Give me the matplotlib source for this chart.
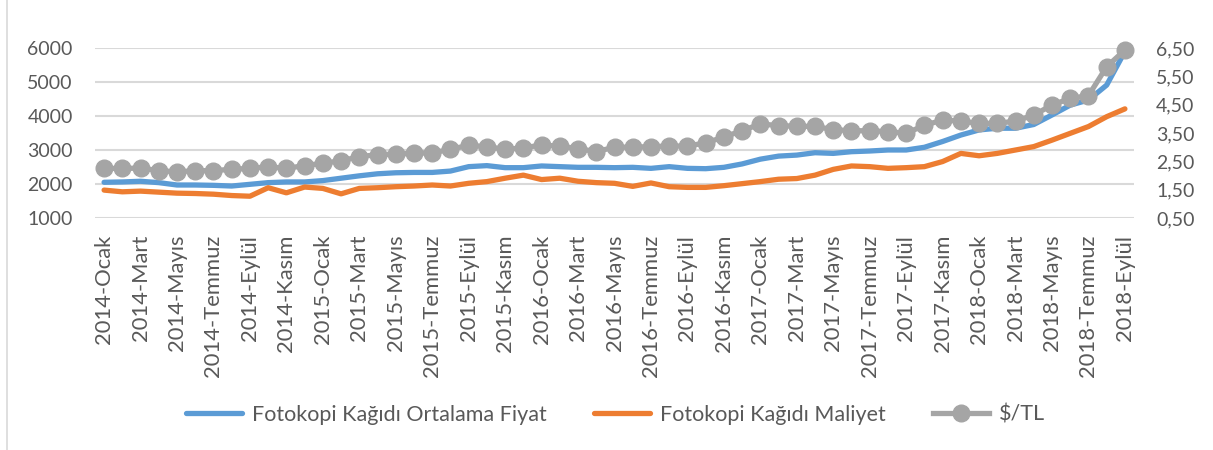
import matplotlib
matplotlib.use('Agg')
import matplotlib.pyplot as plt
import matplotlib.ticker as mticker
from matplotlib.lines import Line2D

plt.rcParams.update({
    'font.family': ['Lato', 'DejaVu Sans'],
    'font.size': 14,
    'text.color': '#595959',
    'xtick.color': '#595959',
    'ytick.color': '#595959',
})

BLUE   = '#5B9BD5'
ORANGE = '#ED7D31'
GRAY   = '#A5A5A5'
GRID   = '#D9D9D9'

# aylar: 2014-Ocak .. 2018-Eylül
years  = [2014, 2015, 2016, 2017, 2018]
months = ['Ocak', 'Şubat', 'Mart', 'Nisan', 'Mayıs', 'Haziran',
          'Temmuz', 'Ağustos', 'Eylül', 'Ekim', 'Kasım', 'Aralık']
labels = [f'{y}-{m}' for y in years for m in months][:57]

ortalama_fiyat = [2050, 2060, 2080, 2040, 1970, 1970, 1960, 1940, 1990, 2040, 2060, 2060,
                  2100, 2170, 2240, 2300, 2330, 2340, 2340, 2380, 2510, 2540, 2480, 2480,
                  2530, 2510, 2490, 2490, 2480, 2490, 2460, 2510, 2460, 2450, 2490, 2590,
                  2730, 2820, 2850, 2920, 2900, 2950, 2970, 3000, 3000, 3080, 3250, 3440,
                  3590, 3640, 3640, 3750, 4030, 4320, 4470, 4910, 5900]
maliyet = [1820, 1770, 1790, 1760, 1730, 1720, 1700, 1660, 1640, 1890, 1740, 1910,
           1870, 1710, 1870, 1890, 1920, 1940, 1970, 1940, 2020, 2070, 2170, 2260,
           2130, 2170, 2080, 2040, 2020, 1930, 2030, 1920, 1900, 1900, 1950, 2010,
           2070, 2140, 2160, 2260, 2430, 2530, 2510, 2460, 2480, 2510, 2660, 2900,
           2830, 2900, 3000, 3100, 3290, 3490, 3690, 3980, 4210]
usd_tl = [2.25, 2.25, 2.26, 2.17, 2.13, 2.17, 2.17, 2.22, 2.25, 2.31, 2.25, 2.35,
          2.43, 2.52, 2.66, 2.74, 2.75, 2.79, 2.80, 2.92, 3.07, 3.01, 2.93, 2.97,
          3.08, 3.03, 2.95, 2.84, 3.00, 3.00, 3.02, 3.04, 3.04, 3.15, 3.36, 3.58,
          3.82, 3.76, 3.74, 3.73, 3.62, 3.58, 3.58, 3.55, 3.49, 3.77, 3.96, 3.92,
          3.84, 3.84, 3.92, 4.13, 4.49, 4.72, 4.82, 5.84, 6.43]

x = list(range(len(labels)))

fig = plt.figure(figsize=(12.13, 4.5), dpi=100)
ax = fig.add_axes([0.0783, 0.5156, 0.8566, 0.3777])
ax2 = ax.twinx()

ax.plot(x, ortalama_fiyat, color=BLUE, linewidth=3.8, solid_capstyle='round')
ax.plot(x, maliyet, color=ORANGE, linewidth=3.8, solid_capstyle='round')
ax2.plot(x, usd_tl, color=GRAY, linewidth=3.8, marker='o', markersize=12,
         clip_on=False)

ax.set_xlim(-0.5, len(labels) - 0.5)
ax.set_ylim(1000, 6000)
ax.set_yticks([1000, 2000, 3000, 4000, 5000, 6000])
ax.grid(axis='y', color=GRID, linewidth=1.5)
ax.set_axisbelow(True)

ax2.set_ylim(0.5, 6.5)
ax2.set_yticks([0.5, 1.5, 2.5, 3.5, 4.5, 5.5, 6.5])
ax2.yaxis.set_major_formatter(mticker.FuncFormatter(lambda v, p: f'{v:.2f}'.replace('.', ',')))

ax.set_xticks(x[::2])
ax.set_xticklabels(labels[::2], rotation=90, fontsize=15.8)

for a in (ax, ax2):
    for s in a.spines.values():
        s.set_visible(False)
ax.tick_params(axis='y', length=0, pad=16)
ax.tick_params(axis='x', length=0, pad=12)
ax2.tick_params(axis='y', length=0, pad=16)

handles = [
    Line2D([], [], color=BLUE, linewidth=3.8, solid_capstyle='round'),
    Line2D([], [], color=ORANGE, linewidth=3.8, solid_capstyle='round'),
    Line2D([], [], color=GRAY, linewidth=3.8, marker='o', markersize=12),
]
fig.legend(handles, ['Fotokopi Kağıdı Ortalama Fiyat', 'Fotokopi Kağıdı Maliyet', '$/TL'],
           loc='center', bbox_to_anchor=(0.5074, 0.078), ncol=3, frameon=False,
           fontsize=15.5, handlelength=2.6, handletextpad=0.45, columnspacing=2.2)

# ince kenar çizgisi (Excel grafik alanı)
fig.add_artist(Line2D([0.006, 0.006], [0, 1], color=GRID, linewidth=1.2,
                      transform=fig.transFigure))

fig.savefig('out.png', dpi=100)
plt.close()
